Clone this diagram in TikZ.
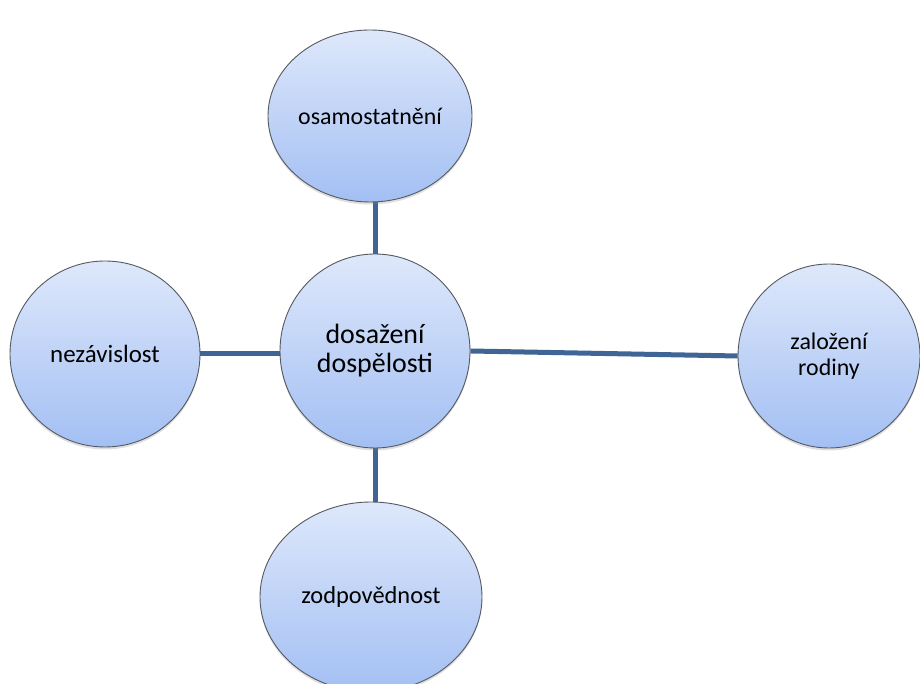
\documentclass[tikz,border=0pt]{standalone}
\usepackage{fontspec}
\setmainfont{Carlito}
\usetikzlibrary{shapes.geometric,shadows,backgrounds}
\definecolor{topfill}{HTML}{DEE8FB}
\definecolor{botfill}{HTML}{A3BFF3}
\definecolor{rim}{HTML}{555A60}
\definecolor{link}{HTML}{3F6596}
\tikzset{
  bubble/.style={ellipse, draw=rim, line width=0.9bp, top color=topfill, bottom color=botfill,
    inner sep=0pt, align=center, text=black,
    drop shadow={opacity=0.25, shadow xshift=0bp, shadow yshift=-2.5bp}},
  linkline/.style={draw=link, line width=5bp}
}
\begin{document}
\begin{tikzpicture}[x=1bp,y=1bp]
\clip (0,0) rectangle (920,684);
\useasboundingbox (0,0) rectangle (920,684);
\node[bubble, minimum width=204bp, minimum height=172bp, font=\fontsize{24}{28}\selectfont] (osam) at (370,568) {osamostatnění};
\node[bubble, minimum width=190bp, minimum height=194bp, font=\fontsize{28}{29}\selectfont] (dos) at (375,333) {dosažení\\dospělosti};
\node[bubble, minimum width=190bp, minimum height=186bp, font=\fontsize{25}{28}\selectfont] (nez) at (105,330) {nezávislost};
\node[bubble, minimum width=182bp, minimum height=184bp, font=\fontsize{24}{26}\selectfont] (zal) at (829,328) {založení\\rodiny};
\node[bubble, minimum width=222bp, minimum height=190bp, font=\fontsize{24.5}{28}\selectfont] (zod) at (371,87) {zodpovědnost};
\begin{pgfonlayer}{background}
\fill[white] (0,0) rectangle (920,684);
\draw[linkline] (dos.north) -- (dos.north |- osam.south);
\draw[linkline] (dos.south) -- (dos.south |- zod.north);
\draw[linkline] (nez.east) -- (nez.east -| dos.west);
\draw[linkline] (dos.east) -- (zal.west);
\end{pgfonlayer}
\end{tikzpicture}
\end{document}
